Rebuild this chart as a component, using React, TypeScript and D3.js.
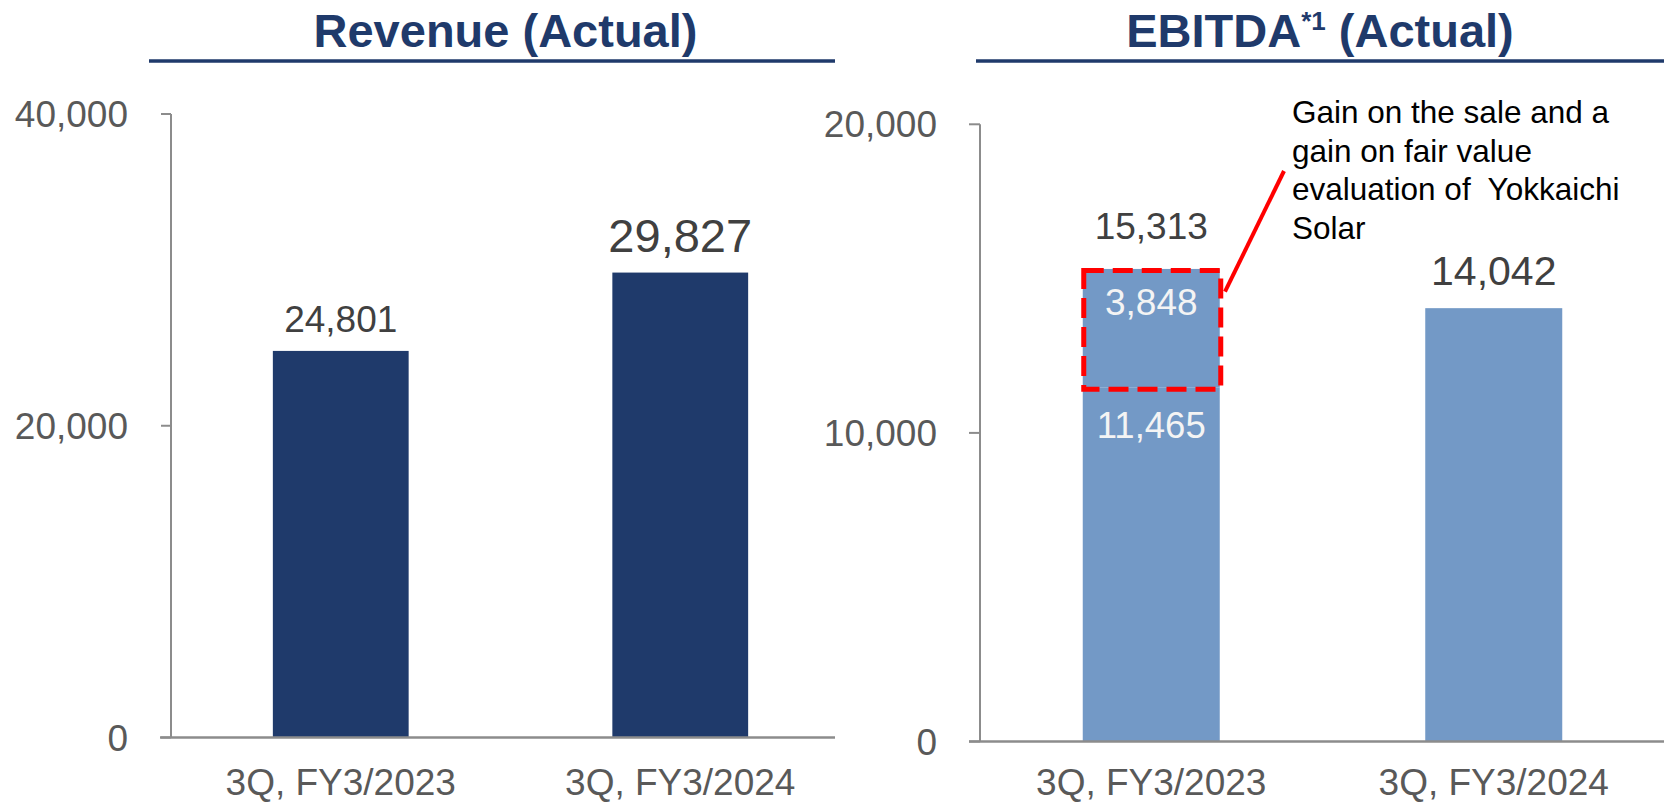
import React from "react";
import * as d3 from "d3";

// ---- data ----
const categories = ["3Q, FY3/2023", "3Q, FY3/2024"];
const revenueValues = [24801, 29827];
const revenueTicks = [0, 20000, 40000];
const ebitdaBase = [11465, 14042];
const ebitdaGain = [3848, 0];
const ebitdaTotals = [15313, 14042];
const ebitdaTicks = [0, 10000, 20000];
const annotationLines = [
  "Gain on the sale and a",
  "gain on fair value",
  "evaluation of  Yokkaichi",
  "Solar",
];

const FONT = "'Liberation Sans', Arial, Helvetica, sans-serif";
const NAVY = "#1F3A6B";
const LIGHT = "#7399C6";
const AXIS = "#8C8C8C";
const TICK_TEXT = "#595959";
const VAL_TEXT = "#404040";
const fmt = d3.format(",");

export default function App() {
  // Left chart scales
  const xL = d3.scaleBand<string>().domain(categories).range([171, 850]);
  const yL = d3.scaleLinear().domain([0, 40000]).range([737.5, 114]);
  const bwL = xL.bandwidth() * 0.4;

  // Right chart scales
  const xR = d3.scaleBand<string>().domain(categories).range([980, 1665]);
  const yR = d3.scaleLinear().domain([0, 20000]).range([741.5, 124.3]);
  const bwR = xR.bandwidth() * 0.4;

  const revLabelSize = [37, 47];
  const revLabelOff = [19, 21];
  const ebLabelSize = [37, 41];
  const ebLabelOff = [29.5, 23];

  const cx = (s: d3.ScaleBand<string>, c: string) => (s(c) as number) + s.bandwidth() / 2;

  const boxX0 = cx(xR, categories[0]) - bwR / 2;
  const boxX1 = cx(xR, categories[0]) + bwR / 2;
  const boxY0 = yR(ebitdaBase[0] + ebitdaGain[0]);
  const boxY1 = yR(ebitdaBase[0]);

  return (
    <svg
      width={1664}
      height={802}
      style={{ position: "absolute", left: 0, top: 0, background: "#fff" }}
      fontFamily={FONT}
    >
      {/* ---------- Left: Revenue ---------- */}
      <text x={505.5} y={46.7} textAnchor="middle" fontSize={47} fontWeight="bold" fill={NAVY}>
        Revenue (Actual)
      </text>
      <line x1={149} x2={835} y1={61} y2={61} stroke={NAVY} strokeWidth={3.5} />

      {revenueValues.map((v, i) => {
        const c = cx(xL, categories[i]);
        return (
          <g key={"rv" + i}>
            <rect x={c - bwL / 2} y={yL(v)} width={bwL} height={yL(0) - yL(v)} fill={NAVY} />
            <text
              x={c}
              y={yL(v) - revLabelOff[i]}
              textAnchor="middle"
              fontSize={revLabelSize[i]}
              fill={VAL_TEXT}
            >
              {fmt(v)}
            </text>
          </g>
        );
      })}

      <line x1={171} x2={171} y1={yL(40000)} y2={yL(0)} stroke={AXIS} strokeWidth={2} />
      <line x1={160} x2={835} y1={yL(0)} y2={yL(0)} stroke={AXIS} strokeWidth={2.5} />
      {revenueTicks.map((t) => (
        <g key={"lt" + t}>
          <line x1={161} x2={171} y1={yL(t)} y2={yL(t)} stroke={AXIS} strokeWidth={2} />
          <text x={128} y={yL(t) + 13} textAnchor="end" fontSize={37} fill={TICK_TEXT}>
            {fmt(t)}
          </text>
        </g>
      ))}
      {categories.map((c) => (
        <text key={"lc" + c} x={cx(xL, c)} y={795} textAnchor="middle" fontSize={37} fill={TICK_TEXT}>
          {c}
        </text>
      ))}

      {/* ---------- Right: EBITDA ---------- */}
      <text x={1320} y={46.7} textAnchor="middle" fontSize={47} fontWeight="bold" fill={NAVY}>
        EBITDA
        <tspan fontSize={26} dy={-17}>*1</tspan>
        <tspan dy={17}> (Actual)</tspan>
      </text>
      <line x1={976} x2={1664} y1={61} y2={61} stroke={NAVY} strokeWidth={3.5} />

      {categories.map((c, i) => {
        const x = cx(xR, c);
        return (
          <g key={"eb" + i}>
            <rect
              x={x - bwR / 2}
              y={yR(ebitdaBase[i])}
              width={bwR}
              height={yR(0) - yR(ebitdaBase[i])}
              fill={LIGHT}
            />
            {ebitdaGain[i] > 0 && (
              <rect
                x={x - bwR / 2}
                y={yR(ebitdaBase[i] + ebitdaGain[i])}
                width={bwR}
                height={yR(ebitdaBase[i]) - yR(ebitdaBase[i] + ebitdaGain[i])}
                fill={LIGHT}
              />
            )}
            <text
              x={x}
              y={yR(ebitdaTotals[i]) - ebLabelOff[i]}
              textAnchor="middle"
              fontSize={ebLabelSize[i]}
              fill={VAL_TEXT}
            >
              {fmt(ebitdaTotals[i])}
            </text>
          </g>
        );
      })}

      {/* inner labels of stacked bar */}
      <text
        x={cx(xR, categories[0])}
        y={boxY0 + 45.6}
        textAnchor="middle"
        fontSize={37}
        fill="#F4F4F4"
      >
        {fmt(ebitdaGain[0])}
      </text>
      <text
        x={cx(xR, categories[0])}
        y={boxY1 + 50}
        textAnchor="middle"
        fontSize={36.5}
        fill="#F4F4F4"
      >
        {fmt(ebitdaBase[0])}
      </text>

      {/* red dashed box + leader */}
      <rect
        x={boxX0 + 1}
        y={boxY0 + 1.5}
        width={boxX1 - boxX0}
        height={boxY1 - boxY0}
        fill="none"
        stroke="#FF0000"
        strokeWidth={5}
        strokeDasharray="20 9"
      />
      <line x1={1225} y1={291.7} x2={1284} y2={171} stroke="#FF0000" strokeWidth={4} />

      {annotationLines.map((l, i) => (
        <text
          key={"an" + i}
          x={1292}
          y={123 + i * 38.7}
          fontSize={31.5}
          fill="#000"
          style={{ whiteSpace: "pre" }}
        >
          {l}
        </text>
      ))}

      <line x1={980} x2={980} y1={yR(20000)} y2={yR(0)} stroke={AXIS} strokeWidth={2} />
      <line x1={969} x2={1664} y1={yR(0)} y2={yR(0)} stroke={AXIS} strokeWidth={2.5} />
      {ebitdaTicks.map((t) => (
        <g key={"rt" + t}>
          <line x1={969} x2={980} y1={yR(t)} y2={yR(t)} stroke={AXIS} strokeWidth={2} />
          <text x={937} y={yR(t) + 13} textAnchor="end" fontSize={37} fill={TICK_TEXT}>
            {fmt(t)}
          </text>
        </g>
      ))}
      {categories.map((c) => (
        <text key={"rc" + c} x={cx(xR, c)} y={795} textAnchor="middle" fontSize={37} fill={TICK_TEXT}>
          {c}
        </text>
      ))}
    </svg>
  );
}
